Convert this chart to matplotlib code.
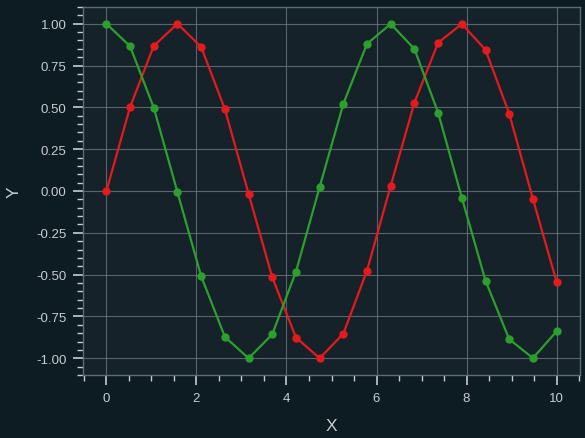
import matplotlib
matplotlib.use("Agg")
import matplotlib.pyplot as plt
from matplotlib.ticker import MultipleLocator, FormatStrFormatter

plt.rcParams['font.family'] = ['Liberation Sans', 'DejaVu Sans']

x_vals = [0.0, 0.526, 1.053, 1.579, 2.105, 2.632, 3.158, 3.684, 4.211, 4.737,
          5.263, 5.789, 6.316, 6.842, 7.368, 7.895, 8.421, 8.947, 9.474, 10.0]
red_vals = [0.0, 0.502, 0.868, 1.000, 0.861, 0.489, -0.016, -0.516, -0.876, -1.000,
            -0.853, -0.476, 0.032, 0.528, 0.886, 0.999, 0.844, 0.463, -0.047, -0.544]
green_vals = [1.0, 0.865, 0.497, -0.008, -0.509, -0.872, -1.000, -0.857, -0.482, 0.024,
              0.521, 0.880, 0.999, 0.849, 0.469, -0.040, -0.536, -0.886, -0.999, -0.839]

fig_bg = "#0d1b22"
ax_bg = "#15222a"
text_c = "#c8ccce"
spine_c = "#5d6b72"

fig = plt.figure(figsize=(5.85, 4.39), dpi=100, facecolor=fig_bg)
ax = fig.add_axes([83/585, 1-376/439, (580-83)/585, (376-8)/439])
ax.set_facecolor(ax_bg)

ax.plot(x_vals, red_vals, color="#e41a1c", marker="o", markersize=5, linewidth=1.6)
ax.plot(x_vals, green_vals, color="#2ca02c", marker="o", markersize=5, linewidth=1.6)

ax.set_xlim(-0.52, 10.52)
ax.set_ylim(-1.1, 1.1)
ax.xaxis.set_major_locator(MultipleLocator(2))
ax.xaxis.set_minor_locator(MultipleLocator(0.5))
ax.yaxis.set_major_locator(MultipleLocator(0.25))
ax.yaxis.set_minor_locator(MultipleLocator(0.05))
ax.yaxis.set_major_formatter(FormatStrFormatter("%.2f"))

ax.grid(True, which="major", color="#6b777d", linewidth=0.8, alpha=0.8)
ax.set_axisbelow(True)
for s in ax.spines.values():
    s.set_color(spine_c)
    s.set_linewidth(1.0)

ax.tick_params(axis="both", which="major", colors=text_c, labelsize=9.5, length=7, width=1.2, direction="out", pad=5)
ax.tick_params(axis="both", which="minor", colors=text_c, length=4, width=1.0, direction="out")

ax.set_xlabel("X", color=text_c, fontsize=12.5, labelpad=10)
ax.set_ylabel("Y", color=text_c, fontsize=12.5, labelpad=10)

fig.savefig("out.png", dpi=100, facecolor=fig_bg)
